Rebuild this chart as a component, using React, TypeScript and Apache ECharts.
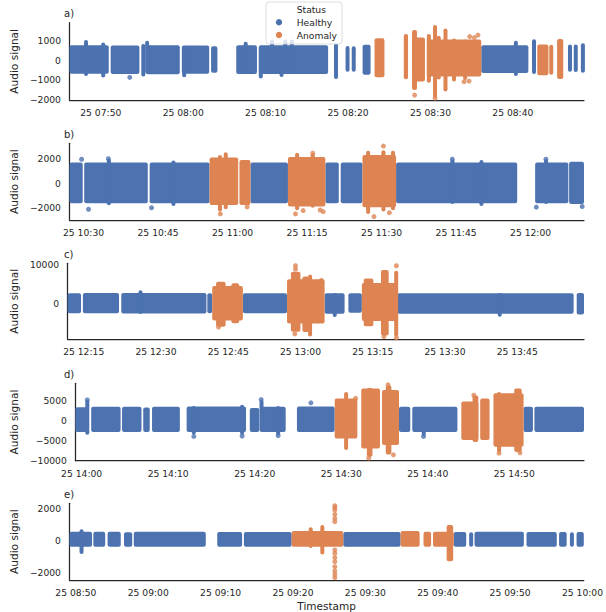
import React, { useEffect, useRef } from 'react';
import * as echarts from 'echarts';

type Seg = [string, string, number, number];
type Pt = [string, number];

// ---------- axis ranges & ticks ----------
const PANEL_TITLES = ['a)', 'b)', 'c)', 'd)', 'e)'];
const X_RANGES: [string, string][] = [
  ['07:46:12', '08:48:38'],
  ['10:27:10', '12:10:45'],
  ['12:11:40', '13:58:52'],
  ['13:59:16', '14:58:04'],
  ['08:49:07', '10:00:11'],
];
const X_TICKS: string[][] = [
  ['07:50', '08:00', '08:10', '08:20', '08:30', '08:40'],
  ['10:30', '10:45', '11:00', '11:15', '11:30', '11:45', '12:00'],
  ['12:15', '12:30', '12:45', '13:00', '13:15', '13:30', '13:45'],
  ['14:00', '14:10', '14:20', '14:30', '14:40', '14:50'],
  ['08:50', '09:00', '09:10', '09:20', '09:30', '09:40', '09:50', '10:00'],
];
const Y_RANGES: [number, number][] = [
  [-2050, 1913],
  [-3000, 3265],
  [-9400, 10440],
  [-10175, 9175],
  [-2500, 2294],
];
const Y_TICKS: number[][] = [
  [-2000, -1000, 0, 1000],
  [-2000, 0, 2000],
  [0, 10000],
  [-10000, -5000, 0, 5000],
  [-2000, 0, 2000],
];
const DAY = '25';

// ---------- panel a ----------
const A_HEALTHY_SEGMENTS: Seg[] = [
  ['07:46:12', '07:50:58', -700, 760],
  ['07:51:12', '07:54:41', -720, 740],
  ['07:54:59', '07:55:20', -850, 820],
  ['07:55:31', '07:59:35', -730, 760],
  ['07:59:50', '08:03:09', -700, 750],
  ['08:03:23', '08:04:09', -650, 700],
  ['08:06:26', '08:08:57', -720, 760],
  ['08:09:11', '08:17:35', -720, 760],
  ['08:18:18', '08:18:47', -970, 860],
  ['08:19:42', '08:20:11', -600, 720],
  ['08:20:27', '08:20:56', -600, 700],
  ['08:21:46', '08:22:44', -760, 780],
  ['08:36:10', '08:41:53', -660, 760],
  ['08:42:22', '08:42:46', -720, 1060],
  ['08:46:43', '08:47:09', -600, 800],
  ['08:47:26', '08:47:50', -620, 800],
  ['08:48:22', '08:48:38', -650, 860],
];
const A_HEALTHY_BURSTS: Seg[] = [
  ['07:48:05', '07:48:20', -820, 1030],
  ['07:50:10', '07:50:25', -900, 900],
  ['07:55:31', '07:55:44', -700, 990],
  ['08:00:00', '08:00:14', -890, 700],
  ['08:07:28', '08:07:42', -700, 940],
  ['08:09:18', '08:09:32', -950, 700],
  ['08:10:40', '08:10:54', -700, 1050],
  ['08:11:50', '08:12:02', -870, 700],
  ['08:12:16', '08:12:30', -700, 1050],
  ['08:13:04', '08:13:18', -700, 1050],
  ['08:40:15', '08:40:29', -820, 990],
];
const A_HEALTHY_OUTLIERS: Pt[] = [['07:53:31', -890]];
const A_ANOMALY_SEGMENTS: Seg[] = [
  ['08:23:13', '08:24:25', -890, 1110],
  ['08:26:46', '08:27:17', -990, 1330],
  ['08:27:46', '08:29:20', -1100, 1150],
  ['08:29:34', '08:36:10', -850, 1050],
  ['08:42:58', '08:44:19', -780, 800],
  ['08:44:26', '08:44:53', -760, 780],
  ['08:45:22', '08:46:07', -970, 1080],
];
const A_ANOMALY_BURSTS: Seg[] = [
  ['08:27:46', '08:28:22', -1540, 1540],
  ['08:29:41', '08:29:56', -1160, 1330],
  ['08:30:26', '08:30:41', -1930, 1800],
  ['08:30:53', '08:31:08', -1000, 1250],
  ['08:31:41', '08:31:58', -1620, 1620],
  ['08:32:46', '08:32:58', -1100, 1100],
  ['08:34:07', '08:34:18', -1030, 1050],
];
const A_ANOMALY_OUTLIERS: Pt[] = [
  ['08:28:05', -1800], ['08:30:34', -1950], ['08:34:05', -1110], ['08:34:41', -1080],
  ['08:34:46', 1200], ['08:35:19', 1150], ['08:35:46', 1280],
];

// ---------- panel b ----------
const B_HEALTHY_SEGMENTS: Seg[] = [
  ['10:27:10', '10:29:50', -1640, 1700],
  ['10:30:08', '10:42:56', -1640, 1700],
  ['10:43:18', '10:55:22', -1640, 1700],
  ['11:03:36', '11:11:09', -1640, 1700],
  ['11:18:41', '11:21:23', -1640, 1700],
  ['11:21:46', '11:26:09', -1640, 1700],
  ['11:32:55', '11:57:18', -1640, 1700],
  ['12:00:55', '12:07:36', -1640, 1700],
  ['12:07:45', '12:10:45', -1700, 1750],
];
const B_HEALTHY_BURSTS: Seg[] = [
  ['10:35:00', '10:35:12', -1800, 2000],
  ['10:48:00', '10:48:12', -1850, 1850],
  ['11:44:10', '11:44:22', -1700, 1960],
  ['11:50:00', '11:50:12', -1850, 1900],
  ['12:03:00', '12:03:12', -1700, 1960],
];
const B_HEALTHY_OUTLIERS: Pt[] = [
  ['10:29:36', 1960], ['10:31:00', -2120], ['10:43:41', -2000], ['12:01:09', -1950],
  ['12:10:23', -1900], ['10:35:00', 2000], ['11:44:14', 1960], ['12:03:05', 1960],
];
const B_ANOMALY_SEGMENTS: Seg[] = [
  ['10:55:22', '11:01:08', -1770, 2100],
  ['11:01:23', '11:03:36', -1770, 1900],
  ['11:11:09', '11:18:41', -1900, 2150],
  ['11:26:09', '11:32:55', -1950, 2300],
];
const B_ANOMALY_BURSTS: Seg[] = [
  ['10:57:20', '10:57:35', -2300, 2300],
  ['10:58:30', '10:58:45', -2120, 2530],
  ['11:12:40', '11:13:20', -2200, 2500],
  ['11:16:00', '11:16:15', -2000, 2450],
  ['11:26:55', '11:27:40', -2500, 2650],
  ['11:30:15', '11:30:30', -2300, 2700],
  ['11:32:10', '11:32:25', -2200, 2650],
];
const B_ANOMALY_OUTLIERS: Pt[] = [
  ['10:57:32', -2500], ['11:02:56', -1930], ['11:12:40', -2500], ['11:14:13', -2230],
  ['11:16:09', 2450], ['11:17:38', -2180], ['11:18:14', -2320], ['11:28:28', -2720],
  ['11:30:22', 3040], ['11:31:34', -2400],
];

// ---------- panel c ----------
const C_HEALTHY_SEGMENTS: Seg[] = [
  ['12:11:40', '12:14:27', -2600, 2600],
  ['12:14:50', '12:22:20', -2600, 2700],
  ['12:22:48', '12:40:29', -2650, 2700],
  ['12:40:40', '12:41:41', -2600, 2600],
  ['12:48:03', '12:57:13', -2600, 2600],
  ['13:05:01', '13:09:10', -2700, 2650],
  ['13:09:57', '13:12:45', -2500, 2600],
  ['13:20:05', '13:56:43', -2700, 2650],
  ['13:57:21', '13:58:52', -2900, 2700],
];
const C_HEALTHY_BURSTS: Seg[] = [
  ['12:26:40', '12:26:55', -2800, 3400],
  ['13:07:00', '13:07:15', -3600, 2700],
  ['13:41:15', '13:41:30', -3500, 2700],
];
const C_HEALTHY_OUTLIERS: Pt[] = [];
const C_ANOMALY_SEGMENTS: Seg[] = [
  ['12:41:41', '12:48:03', -4500, 4500],
  ['12:57:13', '13:05:01', -5300, 6300],
  ['13:12:45', '13:20:05', -4600, 5300],
];
const C_ANOMALY_BURSTS: Seg[] = [
  ['12:42:29', '12:44:28', -6100, 5600],
  ['12:45:40', '12:47:16', -5200, 5200],
  ['12:58:01', '13:00:00', -7400, 8250],
  ['13:00:24', '13:01:45', -7500, 7000],
  ['13:01:45', '13:02:15', -8700, 7500],
  ['13:03:35', '13:04:47', -5000, 5500],
  ['13:13:08', '13:15:08', -6000, 6500],
  ['13:16:43', '13:18:19', -8430, 8700],
  ['13:19:40', '13:20:05', -8700, 8500],
];
const C_ANOMALY_OUTLIERS: Pt[] = [
  ['12:58:58', 9800], ['12:58:58', 8900], ['12:58:50', -8000], ['13:04:20', 6000],
  ['13:19:55', 9800], ['13:19:55', -9000], ['13:17:20', -8700], ['12:43:00', -6200],
];

// ---------- panel d ----------
const D_HEALTHY_SEGMENTS: Seg[] = [
  ['13:59:16', '14:00:47', -3000, 3200],
  ['14:01:06', '14:04:30', -3000, 3300],
  ['14:04:40', '14:06:55', -3000, 3300],
  ['14:07:07', '14:07:52', -3000, 3100],
  ['14:08:08', '14:11:21', -3000, 3300],
  ['14:12:08', '14:19:00', -3000, 3400],
  ['14:19:26', '14:20:32', -3000, 3000],
  ['14:20:45', '14:23:35', -3000, 3300],
  ['14:24:53', '14:29:15', -3000, 3400],
  ['14:36:41', '14:37:59', -3000, 3300],
  ['14:38:13', '14:43:26', -3000, 3300],
  ['14:51:05', '14:52:10', -3000, 3300],
  ['14:52:20', '14:58:04', -3000, 3300],
];
const D_HEALTHY_BURSTS: Seg[] = [
  ['14:00:33', '14:00:45', -3700, 5000],
  ['14:12:50', '14:13:05', -3600, 3500],
  ['14:18:25', '14:18:40', -3700, 3800],
  ['14:20:40', '14:20:55', -3000, 5000],
  ['14:22:35', '14:22:50', -3800, 3500],
  ['14:39:25', '14:39:40', -4000, 3300],
];
const D_HEALTHY_OUTLIERS: Pt[] = [
  ['14:00:39', 5000], ['14:12:58', -4100], ['14:18:33', -4000], ['14:20:45', 5100],
  ['14:22:43', -3900], ['14:39:31', -4100], ['14:26:30', 4300],
];
const D_ANOMALY_SEGMENTS: Seg[] = [
  ['14:29:15', '14:31:52', -4600, 5400],
  ['14:32:19', '14:34:29', -7100, 7900],
  ['14:34:43', '14:36:41', -6250, 7500],
  ['14:43:53', '14:45:51', -5000, 4600],
  ['14:46:04', '14:47:09', -5000, 5400],
  ['14:47:36', '14:51:05', -6700, 6700],
];
const D_ANOMALY_BURSTS: Seg[] = [
  ['14:30:21', '14:30:47', -7500, 7000],
  ['14:32:58', '14:33:37', -9200, 8000],
  ['14:35:09', '14:35:48', -8600, 8600],
  ['14:45:11', '14:45:51', -5500, 6100],
  ['14:48:02', '14:48:28', -8100, 7000],
  ['14:50:00', '14:50:52', -8000, 7900],
];
const D_ANOMALY_OUTLIERS: Pt[] = [
  ['14:31:40', 5400], ['14:33:11', -9500], ['14:35:25', 8800], ['14:36:02', -8700],
  ['14:48:15', -8300], ['14:45:20', 6200], ['14:50:40', -8200],
];

// ---------- panel e ----------
const E_HEALTHY_SEGMENTS: Seg[] = [
  ['08:49:07', '08:52:14', -420, 520],
  ['08:52:25', '08:54:03', -420, 520],
  ['08:54:23', '08:56:12', -420, 520],
  ['08:56:39', '08:57:47', -420, 480],
  ['08:58:00', '09:07:57', -420, 520],
  ['09:09:32', '09:12:58', -420, 500],
  ['09:13:13', '09:19:49', -420, 500],
  ['09:26:57', '09:34:52', -420, 500],
  ['09:42:13', '09:43:56', -420, 500],
  ['09:44:23', '09:44:51', -420, 480],
  ['09:45:05', '09:51:54', -420, 520],
  ['09:52:16', '09:56:27', -420, 500],
  ['09:56:46', '09:57:49', -420, 500],
  ['09:58:16', '09:58:49', -420, 480],
  ['09:59:11', '10:00:11', -420, 500],
];
const E_HEALTHY_BURSTS: Seg[] = [['08:50:36', '08:50:58', -875, 670]];
const E_HEALTHY_OUTLIERS: Pt[] = [];
const E_ANOMALY_SEGMENTS: Seg[] = [
  ['09:19:49', '09:26:57', -420, 560],
  ['09:34:52', '09:37:30', -420, 560],
  ['09:38:02', '09:39:05', -420, 520],
  ['09:39:21', '09:42:13', -420, 520],
];
const E_ANOMALY_BURSTS: Seg[] = [
  ['09:22:12', '09:22:42', -500, 800],
  ['09:23:48', '09:24:18', -900, 940],
  ['09:41:14', '09:42:08', -1330, 940],
];
const E_ANOMALY_OUTLIERS: Pt[] = [
  ['09:25:47', 2146], ['09:25:47', 2021], ['09:25:47', 1875], ['09:25:47', 1604],
  ['09:25:47', 1354], ['09:25:47', 1146], ['09:25:47', -625], ['09:25:47', -833],
  ['09:25:47', -1104], ['09:25:47', -1354], ['09:25:47', -1667], ['09:25:47', -1938],
  ['09:25:47', -2146], ['09:25:47', -2354],
];

const HEALTHY_BY_PANEL = [
  [A_HEALTHY_SEGMENTS, A_HEALTHY_BURSTS, A_HEALTHY_OUTLIERS],
  [B_HEALTHY_SEGMENTS, B_HEALTHY_BURSTS, B_HEALTHY_OUTLIERS],
  [C_HEALTHY_SEGMENTS, C_HEALTHY_BURSTS, C_HEALTHY_OUTLIERS],
  [D_HEALTHY_SEGMENTS, D_HEALTHY_BURSTS, D_HEALTHY_OUTLIERS],
  [E_HEALTHY_SEGMENTS, E_HEALTHY_BURSTS, E_HEALTHY_OUTLIERS],
] as const;
const ANOMALY_BY_PANEL = [
  [A_ANOMALY_SEGMENTS, A_ANOMALY_BURSTS, A_ANOMALY_OUTLIERS],
  [B_ANOMALY_SEGMENTS, B_ANOMALY_BURSTS, B_ANOMALY_OUTLIERS],
  [C_ANOMALY_SEGMENTS, C_ANOMALY_BURSTS, C_ANOMALY_OUTLIERS],
  [D_ANOMALY_SEGMENTS, D_ANOMALY_BURSTS, D_ANOMALY_OUTLIERS],
  [E_ANOMALY_SEGMENTS, E_ANOMALY_BURSTS, E_ANOMALY_OUTLIERS],
] as const;

// ---------- layout & style ----------
const BLUE = '#4C72B0';
const ORANGE = '#DD8452';
const INK = '#262626';
const FONT = 'DejaVu Sans';
const GRID_LEFT = 63.3;
const GRID_RIGHT = 22;
const GRID_TOPS = [22.7, 143.3, 263.3, 383.3, 503.3];
const GRID_HEIGHTS = [77.3, 76.7, 76, 77.4, 76.7];
const YNAME_GAPS = [47, 47, 47, 53, 47];
const MIN_BAR_PX = 4;
const CORNER_PX = 2;

function toMin(s: string): number {
  const p = s.split(':').map(Number);
  return p[0] * 60 + p[1] + (p[2] || 0) / 60;
}
function fmtTime(v: number): string {
  const total = Math.round(v);
  const h = Math.floor(total / 60);
  const m = total % 60;
  return `${DAY} ${String(h).padStart(2, '0')}:${String(m).padStart(2, '0')}`;
}
function fmtNum(v: number): string {
  return String(Math.round(v)).replace('-', '\u2212');
}

function rectRenderer(color: string) {
  return (params: any, api: any) => {
    const p0 = api.coord([api.value(0), api.value(3)]);
    const p1 = api.coord([api.value(1), api.value(2)]);
    let x = p0[0];
    let w = p1[0] - p0[0];
    if (w < MIN_BAR_PX) {
      const mid = x + w / 2;
      w = MIN_BAR_PX;
      x = mid - w / 2;
    }
    return {
      type: 'rect',
      shape: { x, y: p0[1], width: w, height: p1[1] - p0[1], r: CORNER_PX },
      style: { fill: color },
    };
  };
}

function buildOption() {
  const grid: any[] = [];
  const xAxis: any[] = [];
  const yAxis: any[] = [];
  const series: any[] = [];
  const title: any[] = [];

  for (let i = 0; i < 5; i++) {
    grid.push({ left: GRID_LEFT, right: GRID_RIGHT, top: GRID_TOPS[i], height: GRID_HEIGHTS[i] });
    title.push({
      text: PANEL_TITLES[i],
      left: 64,
      top: GRID_TOPS[i] - 14,
      padding: 0,
      textStyle: { fontSize: 10, fontWeight: 'normal', color: INK, fontFamily: FONT },
    });
    xAxis.push({
      type: 'value',
      gridIndex: i,
      min: toMin(X_RANGES[i][0]),
      max: toMin(X_RANGES[i][1]),
      axisLine: { show: true, onZero: false, lineStyle: { color: INK, width: 1.25 } },
      axisTick: { show: false },
      splitLine: { show: false },
      axisLabel: {
        customValues: X_TICKS[i].map(toMin),
        formatter: (v: number) => fmtTime(v),
        fontSize: 9.2,
        color: INK,
        fontFamily: FONT,
        margin: 8,
      },
      ...(i === 4
        ? {
            name: 'Timestamp',
            nameLocation: 'middle',
            nameGap: 20,
            nameTextStyle: { fontSize: 10.5, color: INK, fontFamily: FONT },
          }
        : {}),
    });
    yAxis.push({
      type: 'value',
      gridIndex: i,
      min: Y_RANGES[i][0],
      max: Y_RANGES[i][1],
      name: 'Audio signal',
      nameLocation: 'middle',
      nameGap: YNAME_GAPS[i],
      nameTextStyle: { fontSize: 10.6, color: INK, fontFamily: FONT },
      axisLine: { show: true, onZero: false, lineStyle: { color: INK, width: 1.25 } },
      axisTick: { show: false },
      splitLine: { show: false },
      axisLabel: {
        customValues: Y_TICKS[i],
        formatter: (v: number) => fmtNum(v),
        fontSize: 9.2,
        color: INK,
        fontFamily: FONT,
        margin: 8.5,
      },
    });

    const groups: [string, string, any][] = [
      ['Healthy', BLUE, HEALTHY_BY_PANEL[i]],
      ['Anomaly', ORANGE, ANOMALY_BY_PANEL[i]],
    ];
    for (const [name, color, [segs, bursts, outs]] of groups) {
      const rects = [...segs, ...bursts].map((s: Seg) => [toMin(s[0]), toMin(s[1]), s[2], s[3]]);
      series.push({
        type: 'custom',
        name,
        xAxisIndex: i,
        yAxisIndex: i,
        data: rects,
        encode: { x: [0, 1], y: [2, 3] },
        itemStyle: { color },
        renderItem: rectRenderer(color),
        silent: true,
      });
      series.push({
        type: 'scatter',
        name,
        xAxisIndex: i,
        yAxisIndex: i,
        data: (outs as Pt[]).map((p) => [toMin(p[0]), p[1]]),
        symbol: 'circle',
        symbolSize: 5,
        itemStyle: { color },
        silent: true,
      });
    }
  }

  const legendText = (text: string, x: number, y: number) => ({
    type: 'text',
    z: 101,
    x,
    y,
    style: {
      text,
      fill: INK,
      fontSize: 9.2,
      fontFamily: FONT,
      align: 'left',
      verticalAlign: 'middle',
      textAlign: 'left',
      textVerticalAlign: 'middle',
    },
  });

  const graphic = [
    {
      type: 'rect',
      z: 100,
      shape: { x: 266, y: 2, width: 76, height: 42, r: 3 },
      style: { fill: 'rgba(255,255,255,0.8)', stroke: '#d6d6d6', lineWidth: 0.8 },
    },
    legendText('Status', 296.7, 9),
    { type: 'circle', z: 101, shape: { cx: 279, cy: 22.3, r: 3.2 }, style: { fill: BLUE } },
    legendText('Healthy', 296.7, 22.3),
    { type: 'circle', z: 101, shape: { cx: 279, cy: 35, r: 3.2 }, style: { fill: ORANGE } },
    legendText('Anomaly', 296.7, 35),
  ];

  return {
    animation: false,
    backgroundColor: '#ffffff',
    textStyle: { fontFamily: FONT },
    title,
    grid,
    xAxis,
    yAxis,
    series,
    graphic,
  };
}

export default function App() {
  const ref = useRef<HTMLDivElement>(null);
  useEffect(() => {
    if (!ref.current) return;
    const chart = echarts.init(ref.current, undefined, { renderer: 'svg' });
    chart.setOption(buildOption() as any);
    return () => chart.dispose();
  }, []);
  return (
    <div
      ref={ref}
      style={{ position: 'absolute', left: 0, top: 0, width: 606, height: 612, background: '#fff' }}
    />
  );
}
